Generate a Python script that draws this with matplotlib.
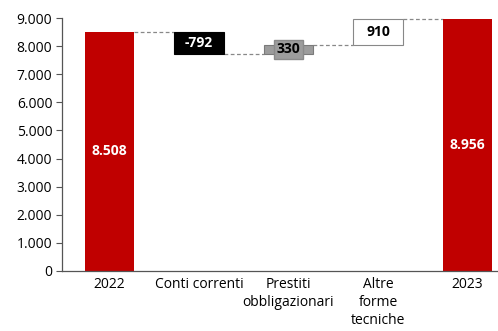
import matplotlib
matplotlib.use("Agg")
import matplotlib.pyplot as plt
import numpy as np

categories = ["2022", "Conti correnti", "Prestiti\nobbligazionari", "Altre\nforme\ntecniche", "2023"]
start_value = 8508
deltas = [-792, 330, 910]
end_value = 8956
yticks = [0, 1000, 2000, 3000, 4000, 5000, 6000, 7000, 8000, 9000]

plt.rcParams['font.family'] = ['Open Sans', 'DejaVu Sans']

fig = plt.figure(figsize=(4.98, 3.31), dpi=100)
ax = fig.add_axes([62/498, 1-271/331, (497-62)/498, (271-18)/331])

x = np.arange(len(categories))
w = 0.55
red = "#C00000"

# totals
ax.bar(x[0], start_value, width=w, color=red, zorder=2)
ax.bar(x[4], end_value, width=w, color=red, zorder=2)

# deltas
styles = [
    dict(color="black", edgecolor="black"),
    dict(color="#9c9c9c", edgecolor="#7a7a7a"),
    dict(color="white", edgecolor="#888888"),
]
label_styles = [
    dict(color="white", box=None),
    dict(color="black", box=dict(facecolor="#9c9c9c", edgecolor="#8a8a8a", pad=2.0)),
    dict(color="black", box=None),
]
level = start_value
levels = [start_value]
for i, d in enumerate(deltas):
    bottom = level + min(d, 0)
    ax.bar(x[i+1], abs(d), bottom=bottom, width=w, linewidth=0.8, zorder=2, **styles[i])
    ls = label_styles[i]
    ax.text(x[i+1], bottom + abs(d)/2, f"{d:,}".replace(",", "."), ha="center", va="center",
            color=ls["color"], fontsize=10, fontweight="bold", zorder=4,
            bbox=ls["box"])
    level += d
    levels.append(level)

# connectors
for i in range(4):
    ax.plot([x[i] + w/2, x[i+1] - w/2], [levels[i], levels[i]], ls=(0, (3, 2)),
            color="#888888", lw=0.9, zorder=1)

# total labels
ax.text(x[0], start_value/2, f"{start_value:,}".replace(",", "."), ha="center", va="center",
        color="white", fontsize=10, fontweight="bold")
ax.text(x[4], end_value/2, f"{end_value:,}".replace(",", "."), ha="center", va="center",
        color="white", fontsize=10, fontweight="bold")

ax.set_xlim(-0.53, 4.33)
ax.set_ylim(0, 9000)
ax.set_yticks(yticks)
ax.set_yticklabels([f"{v:,}".replace(",", ".") for v in yticks], fontsize=10)
ax.set_xticks(x)
ax.set_xticklabels(categories, fontsize=10, linespacing=1.3)
ax.tick_params(axis="x", length=0, pad=4)
ax.tick_params(axis="y", length=4, width=0.8, color="#555555", pad=3)
for s in ["top", "right"]:
    ax.spines[s].set_visible(False)
for s in ["left", "bottom"]:
    ax.spines[s].set_color("#555555")
    ax.spines[s].set_linewidth(0.9)

fig.savefig("out.png", dpi=100)
